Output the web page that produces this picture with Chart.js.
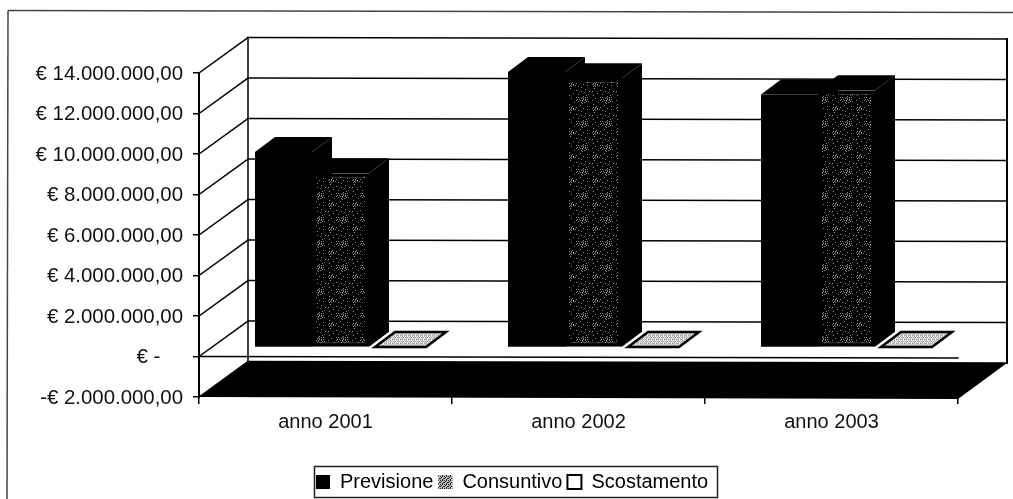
<!DOCTYPE html>
<html>
<head>
<meta charset="utf-8">
<title>Previsione e consuntivo</title>
<script src="https://cdn.jsdelivr.net/npm/chart.js@4"></script>
<style>
  html, body { margin: 0; padding: 0; background: #fff; }
  canvas { display: block; }
</style>
</head>
<body>
<canvas id="chart" width="1013" height="499"></canvas>
<script>
// ── Data ─────────────────────────────────────────────────────────────────────

const categories  = ['anno 2001', 'anno 2002', 'anno 2003'];
const previsione  = [9650000, 13600000, 12500000];
const consuntivo  = [8600000, 13300000, 12700000];
const scostamento = [30000, 30000, 30000];

const yTickLabels = [
  '-€ 2.000.000,00', '€ -    ', '€ 2.000.000,00', '€ 4.000.000,00', '€ 6.000.000,00',
  '€ 8.000.000,00', '€ 10.000.000,00', '€ 12.000.000,00', '€ 14.000.000,00',
];

// ── Fill patterns (scanned halftone look) ────────────────────────────────────

const SPECKLE_TILE = [
  '..............x.........',
  '...x....................',
  '..................x.....',
  '.........x..............',
  '.x............x.......x.',
  '.................x......',
  '......x.................',
  '...........x.........x..',
  '..x................x....',
  '................x.......',
  '.........x.x...x..x.x...',
  '....x.........x.x.......',
  '..........x.x...x.x.x...',
  '.x.......x...x.x..x.....',
  '...........x...x...x.x..',
  '.......x......x..x......',
  '...............x........',
  '..x.....................',
  '.............x..........',
  '.....x..............x...',
  '..x.x....x..............',
  '.x..x.x.........x.......',
  '...x..x.x...........x...',
  '..x.x......x............',
];
const LEGEND_TILE = ['x.x.', '.x..', 'x..x', '..x.'];
const FLAT_TILE   = ['x.x.', '.xxx', 'x.x.', 'xxx.'];

function makePattern(rows, on, off) {
  const c = document.createElement('canvas');
  c.width = rows[0].length;
  c.height = rows.length;
  const g = c.getContext('2d');
  rows.forEach((row, y) => {
    [...row].forEach((ch, x) => {
      g.fillStyle = ch === 'x' ? on : off;
      g.fillRect(x, y, 1, 1);
    });
  });
  return g.createPattern(c, 'repeat');
}

const ctx = document.getElementById('chart').getContext('2d');
const speckle     = makePattern(SPECKLE_TILE, '#8a8a8a', '#000');
const legendFill  = makePattern(LEGEND_TILE, '#222', '#bbb');
const flatFill    = makePattern(FLAT_TILE, '#b4b4b4', '#efefef');

// ── 3D look ──────────────────────────────────────────────────────────────────

const WALL_DX = 49, WALL_DY = -35.5;   // depth of the floor and side wall
const BAR_DX  = 15, BAR_DY  = -9;      // bars stand inside the depth
const SIDE_DX = 20, SIDE_DY = -15;     // depth of a bar
const TILT = 1.5;                      // the scan sags a little to the right
const FLAT_INSET = 6;                  // flat bars start clear of their neighbour

function poly(g, pts) {
  g.beginPath();
  pts.forEach((p, i) => i ? g.lineTo(p[0], p[1]) : g.moveTo(p[0], p[1]));
  g.closePath();
}

function seg(g, x1, y1, x2, y2) {
  g.beginPath();
  g.moveTo(x1, y1);
  g.lineTo(x2, y2);
  g.stroke();
}

const walls3d = {
  id: 'walls3d',
  beforeDraw(chart) {
    const g = chart.ctx;
    // page frame of the pasted chart
    g.save();
    g.strokeStyle = '#444';
    g.lineWidth = 1.5;
    seg(g, 8, 10.5, 1013, 12.5);
    seg(g, 8, 10.5, 7, 499);
    // legend frame, legend itself is moved into it
    g.strokeStyle = '#222';
    g.strokeRect(314.5, 466.5, 403, 31);
    g.restore();
    const lg = chart.legend;
    lg.left = 311;
    lg.right = 800;
    lg.top = 467;
  },
  beforeDatasetsDraw(chart) {
    const g = chart.ctx;
    const { left, right } = chart.chartArea;
    const y = chart.scales.y;
    const yMin = y.getPixelForValue(y.min), yMax = y.getPixelForValue(y.max);
    const yZero = y.getPixelForValue(0);
    g.save();
    g.strokeStyle = '#000';
    g.lineCap = 'square';

    // back wall grid + side wall
    g.lineWidth = 1.5;
    y.ticks.forEach(t => {
      const py = y.getPixelForValue(t.value);
      seg(g, left, py, left + WALL_DX, py + WALL_DY);
      seg(g, left + WALL_DX, py + WALL_DY, right + WALL_DX, py + WALL_DY + TILT);
    });
    seg(g, left + WALL_DX, yMax + WALL_DY, left + WALL_DX, yMin + WALL_DY);
    g.lineWidth = 2;
    seg(g, right + WALL_DX, yMax + WALL_DY + TILT, right + WALL_DX, yMin + WALL_DY + TILT);
    g.lineWidth = 1.5;

    // floor
    g.fillStyle = '#000';
    poly(g, [[left, yMin], [right, yMin + 2], [right + WALL_DX, yMin + WALL_DY + TILT], [left + WALL_DX, yMin + WALL_DY]]);
    g.fill();

    // value axis line at zero
    seg(g, left, yZero, right, yZero + TILT);

    // top and side faces of the bars, left to right
    categories.forEach((_, ci) => {
      chart.data.datasets.forEach((ds, di) => {
        const el = chart.getDatasetMeta(di).data[ci];
        const flat = di === 2;
        const x0 = el.x - el.width / 2 + BAR_DX + (flat ? FLAT_INSET : 0), x1 = el.x + el.width / 2 + BAR_DX;
        const top = el.y + BAR_DY, base = el.base + BAR_DY;
        const topFace = [[x0, top], [x1, top], [x1 + SIDE_DX, top + SIDE_DY], [x0 + SIDE_DX, top + SIDE_DY]];
        const sideFace = [[x1, top], [x1 + SIDE_DX, top + SIDE_DY], [x1 + SIDE_DX, base + SIDE_DY], [x1, base]];
        g.fillStyle = '#000';
        poly(g, sideFace);
        g.fill();
        g.fillStyle = flat ? flatFill : '#000';
        poly(g, topFace);
        g.fill();
        if (flat) {
          g.lineWidth = 2.5;
          g.lineJoin = 'miter';
          g.stroke();
          g.lineWidth = 1.5;
        }
      });
    });
    g.restore();
  },
  beforeDatasetDraw(chart) {
    chart.ctx.save();
    chart.ctx.translate(BAR_DX, BAR_DY);
  },
  afterDatasetDraw(chart) {
    chart.ctx.restore();
  },
};

// ── Chart ────────────────────────────────────────────────────────────────────

const FONT = { family: "'Liberation Sans', Arial, sans-serif", size: 20 };
const Y_FONT = { family: FONT.family, size: 20.4 };

new Chart(ctx, {
  type: 'bar',
  plugins: [walls3d],
  data: {
    labels: categories,
    datasets: [
      { label: 'Previsione',  data: previsione,  backgroundColor: '#000', borderColor: '#000', borderWidth: 0 },
      { label: 'Consuntivo',  data: consuntivo,  backgroundColor: speckle, borderColor: '#000', borderWidth: 4 },
      { label: 'Scostamento', data: scostamento, backgroundColor: 'rgba(0,0,0,0)', borderColor: '#000', borderWidth: 0 },
    ],
  },
  options: {
    responsive: false,
    animation: false,
    clip: false,
    layout: { padding: { left: 0, top: 73, right: 55, bottom: 0 } },
    datasets: { bar: { categoryPercentage: 171 / 253, barPercentage: 1, borderSkipped: false } },
    scales: {
      x: {
        offset: true,
        grid: { offset: true, drawOnChartArea: false, color: '#000', lineWidth: 1.5, tickLength: 7 },
        border: { display: false },
        ticks: { color: '#111', font: FONT, padding: 6, maxRotation: 0 },
        afterFit: s => { s.height = 499 - 397 - s.chart.legend.height; },
      },
      y: {
        min: -2000000,
        max: 14000000,
        grid: { drawOnChartArea: false, color: '#000', lineWidth: 1.5, tickLength: 6 },
        border: { color: '#000', width: 2 },
        ticks: {
          stepSize: 2000000,
          color: '#111',
          font: Y_FONT,
          padding: 10,
          labelOffset: 1,
          autoSkip: false,
          callback: (v, i) => yTickLabels[i],
        },
        afterFit: s => { s.width = 199; },
      },
    },
    plugins: {
      tooltip: { enabled: false },
      legend: {
        position: 'bottom',
        align: 'start',
        labels: {
          color: '#000',
          font: FONT,
          boxWidth: 14,
          boxHeight: 14,
          padding: 5,
          generateLabels(chart) {
            const items = Chart.defaults.plugins.legend.labels.generateLabels(chart);
            items[1].fillStyle = legendFill;
            items[1].lineWidth = 0;
            items[2].fillStyle = '#fff';
            items[2].lineWidth = 2;
            return items;
          },
        },
      },
    },
  },
});
</script>
</body>
</html>
